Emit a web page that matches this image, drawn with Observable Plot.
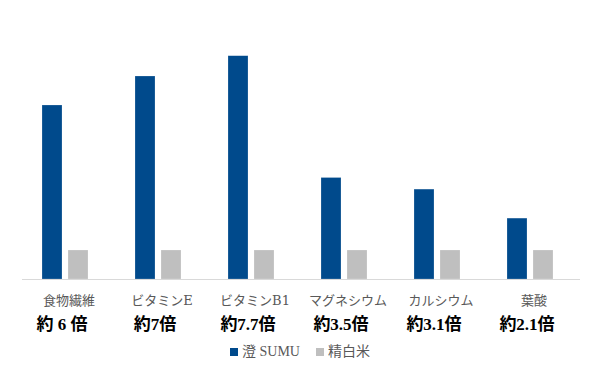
<!DOCTYPE html>
<html>
<head>
<meta charset="utf-8">
<script src="https://cdn.jsdelivr.net/npm/d3@7"></script>
<script src="https://cdn.jsdelivr.net/npm/@observablehq/plot@0.6"></script>
<style>
  html, body { margin: 0; padding: 0; background: #fff; }
  #chart { width: 600px; }
  .legend { display: flex; justify-content: center; align-items: center; gap: 16px;
    font-family: "Liberation Serif", "Noto Sans CJK JP", serif; font-size: 14px; color: #595959;
    margin-left: 0px; margin-top: 0px; }
  .legend span.sw { display: inline-block; width: 8px; height: 8px; margin-right: 4px; vertical-align: 0px; }
</style>
</head>
<body>
<div id="chart"></div>
<script>
const categories = ["食物繊維", "ビタミンE", "ビタミンB1", "マグネシウム", "カルシウム", "葉酸"];
const series = ["澄 SUMU", "精白米"];
const sumuValues = [6, 7, 7.7, 3.5, 3.1, 2.1];
const riceValues = [1, 1, 1, 1, 1, 1];
const ratioLabels = ["約 6 倍", "約7倍", "約7.7倍", "約3.5倍", "約3.1倍", "約2.1倍"];
const colors = ["#004A8C", "#BFBFBF"];

const rows = [];
categories.forEach((c, i) => {
  rows.push({category: c, series: series[0], value: sumuValues[i]});
  rows.push({category: c, series: series[1], value: riceValues[i]});
});
const labelRows = categories.map((c, i) => ({category: c, ratio: ratioLabels[i]}));

const plot = Plot.plot({
  width: 600,
  height: 340,
  marginLeft: 20,
  marginRight: 18,
  marginTop: 18,
  marginBottom: 61,
  style: {fontFamily: '"DejaVu Serif", "Noto Sans CJK JP", serif', background: "#fff"},
  fx: {domain: categories, padding: 0, axis: null},
  x: {domain: series, paddingInner: 0.22, paddingOuter: 0.85, align: 0.43, axis: null},
  y: {domain: [0, 9], axis: null},
  color: {domain: series, range: colors},
  marks: [
    Plot.barY(rows, {fx: "category", x: "series", y: "value", fill: "series", stroke: "#fff", strokeOpacity: 0.35, strokeWidth: 0.6}),
    Plot.ruleY([0], {stroke: "#D9D9D9", strokeWidth: 1.2}),
    Plot.text(labelRows, {fx: "category", text: "category", frameAnchor: "bottom", dy: 21, lineAnchor: "middle",
      fontSize: 13, fill: "#595959"}),
    Plot.text(labelRows, {fx: "category", text: "ratio", frameAnchor: "bottom", dy: 45, dx: -7, lineAnchor: "middle",
      fontFamily: '"Liberation Serif", "Noto Sans CJK JP", serif',
      fontSize: 17, fontWeight: "bold", fill: "#000"})
  ]
});
document.getElementById("chart").appendChild(plot);

const legend = document.createElement("div");
legend.className = "legend";
series.forEach((s, i) => {
  const item = document.createElement("div");
  item.innerHTML = `<span class="sw" style="background:${colors[i]}"></span>${s}`;
  legend.appendChild(item);
});
document.getElementById("chart").appendChild(legend);
</script>
</body>
</html>
